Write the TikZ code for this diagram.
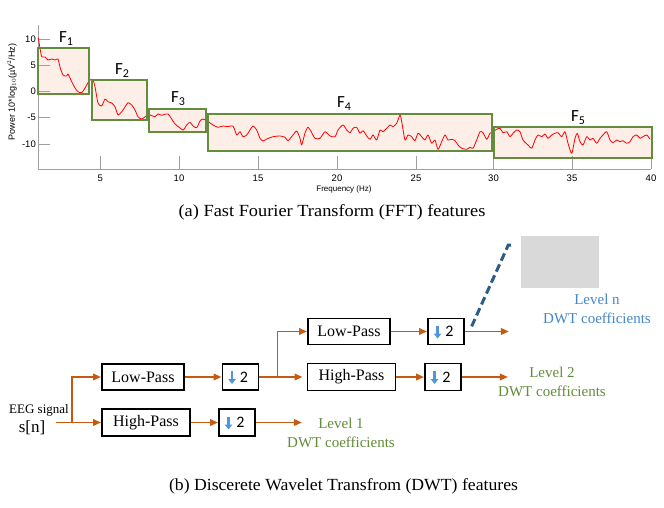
\documentclass[tikz,border=0pt]{standalone}
\usepackage{fontspec}
\setmainfont{Liberation Serif}
\newfontfamily\plotsans{Liberation Sans}
\newfontfamily\calsans{Carlito}
\usetikzlibrary{arrows.meta,calc}
\definecolor{plotgreen}{RGB}{100,140,62}
\definecolor{boxfill}{RGB}{253,238,232}
\definecolor{axisgrey}{RGB}{160,160,160}
\definecolor{sigorange}{RGB}{197,90,17}
\definecolor{lvlblue}{RGB}{68,134,200}
\definecolor{dashblue}{RGB}{46,92,138}
\definecolor{lvlgreen}{RGB}{98,140,58}
\definecolor{arrowblue}{RGB}{80,150,220}
\definecolor{greyrect}{RGB}{217,217,217}
\tikzset{
  fband/.style={fill=boxfill},
  fedge/.style={draw=plotgreen, line width=2pt},
  flabel/.style={font=\calsans\fontsize{17}{17}\selectfont, inner sep=0pt},
  ticklab/.style={font=\plotsans\fontsize{9.5}{9.5}\selectfont, inner sep=0pt},
  axisline/.style={draw=axisgrey, line width=0.9pt},
  filt/.style={draw, line width=1.9pt, fill=white, font=\fontsize{16}{16}\selectfont, inner sep=0pt},
  dbox/.style={draw, line width=1.9pt, fill=white, font=\calsans\fontsize{16}{16}\selectfont, inner sep=0pt, minimum width=36pt},
  conn/.style={draw=sigorange, line width=1.9pt},
  tip/.style={-{Triangle[length=8pt,width=6.5pt]}},
  dnarrow/.style={draw=arrowblue, line width=2.6pt, -{Triangle[length=5pt,width=7.5pt]}},
  lvl/.style={align=center, font=\fontsize{15}{19}\selectfont, inner sep=0pt},
  caption/.style={font=\fontsize{17}{17}\selectfont, inner sep=0pt}
}
\begin{document}
\begin{tikzpicture}[x=1pt,y=-1pt]
\useasboundingbox (0,0) rectangle (664,508);
\fill[white] (0,0) rectangle (664,508);
% ---------- FFT plot ----------
\fill[fband] (38,48) rectangle (89,94);
\fill[fband] (92,80) rectangle (147,120);
\fill[fband] (149,109) rectangle (206,132);
\fill[fband] (208,114) rectangle (492,151);
\fill[fband] (494,127) rectangle (652,158);
\draw[axisline] (38,25) -- (38,169) -- (651,169);
\foreach \yy in {39,65.5,91.5,117.7,144} \draw[axisline] (38,\yy) -- (50,\yy);
\foreach \xx in {100.3,179,258,337,416,493.5,572,651} \draw[axisline] (\xx,169) -- (\xx,156);
\node[ticklab, anchor=east] (y10) at (36,39) {10};
\node[ticklab, anchor=east] (y5) at (36,65.5) {5};
\node[ticklab, anchor=east] (y0) at (36,91.5) {0};
\node[ticklab, anchor=east] (ym5) at (36,117.7) {-5};
\node[ticklab, anchor=east] (ym10) at (36,144) {-10};
\node[ticklab] (x5) at (100.3,178) {5};
\node[ticklab] (x10) at (179,178) {10};
\node[ticklab] (x15) at (258,178) {15};
\node[ticklab] (x20) at (337,178) {20};
\node[ticklab] (x25) at (416,178) {25};
\node[ticklab] (x30) at (493.5,178) {30};
\node[ticklab] (x35) at (572,178) {35};
\node[ticklab] (x40) at (651,178) {40};
\node[font=\plotsans\fontsize{8}{8}\selectfont, inner sep=0pt] (xlab) at (344,189) {Frequency (Hz)};
\node[font=\plotsans\fontsize{9}{9}\selectfont, inner sep=0pt, rotate=90] (ylab) at (12,92) {Power 10*log$_{10}$(µV$^2$/Hz)};
\draw[red, line width=0.8pt, line join=round] plot[smooth, tension=0.4] coordinates {
(38.3,38) (40,48) (41.7,56.7) (45,57) (48,60) (51.7,59) (55,60) (58,59) (60,67) (63,75) (66.7,76) (68,74) (71.7,81.7) (75,88) (78,91.7) (81.7,92.7) (85,88) (89.3,80.7) (92.7,79.3) (95,86.7) (98,103) (101.7,106) (105,99) (108,101.7) (111.7,103) (115,106.7) (118,115) (121.7,111.7) (125,107) (128,102.7) (131.7,105) (135,110) (138,116.7) (141.7,119) (146.7,115.7) (150,115) (155,116.7) (158,114) (161.7,115.3) (165,114.3) (168,114) (171.7,119) (175,124) (180,128) (183.3,130) (186.7,125) (190,122.3) (193,126) (196.7,127.7) (200,121) (203,119) (208.3,121.7) (213,125) (218,127.3) (223,126) (228,126.7) (233,126) (236.7,135) (240,131.7) (243,136.7) (246.7,135) (250,130) (253,126) (256.7,130) (260,138.3) (263,141) (266.7,139) (273,136.7) (280,136) (285,137.3) (288,140.7) (293,135) (296.7,131) (300,138.3) (301.7,145) (305,133) (308,127.3) (311.7,132.7) (315,138.3) (320,138.3) (325,131.7) (330,136) (335,136.7) (338,130) (343,125) (346.7,130) (350,132.7) (353,128.3) (356.7,127.3) (360,133.3) (363,130.7) (366.7,136) (370,139.3) (373,135) (376.7,140) (380,130) (383,131.7) (386.7,128.3) (390,125) (393,126.7) (396.7,123.3) (400,115) (401.7,121.7) (405,140) (408,135) (411.7,136.7) (415,140.7) (418,133.3) (421.7,136.7) (425,140) (428,135) (431.7,143.3) (435,140) (438,149.3) (441.7,141.7) (445,135) (448,140) (451.7,139.3) (455,140.7) (458,145) (461.7,148.3) (466.7,149.3) (470,147.3) (473,148.3) (476.7,140) (480,131.7) (483,132.7) (486.7,139.3) (490,133.3) (493,131.7) (496.7,129.3) (500,128.3) (503,132.7) (506.7,131.7) (510,136.7) (513,133.3) (516.7,130) (520,131.7) (523,140) (528,145) (531.7,148.3) (535,140) (538,135) (541.7,136.7) (545,134) (548,138.3) (551.7,135) (555,133.3) (558,132.7) (561.7,136.7) (565,131.7) (568,143.3) (571.7,153.3) (575,138.3) (577.3,133.3) (580,141.7) (583,145) (586.7,136.7) (590,140) (593,138.3) (596.7,143.3) (600,138.3) (603,135) (606.7,131.7) (610,140) (613,142.7) (616.7,140) (620,141.7) (623,140.7) (626.7,143.3) (630,141.7) (633,136.7) (636.7,135) (640,138.3) (643,136.7) (646.7,135) (650,139.3)};
\draw[fedge] (38,48) rectangle (89,94);
\draw[fedge] (92,80) rectangle (147,120);
\draw[fedge] (149,109) rectangle (206,132);
\draw[fedge] (208,114) rectangle (492,151);
\draw[fedge] (494,127) rectangle (652,158);
\node[flabel] (F1) at (66,39) {F\raisebox{-3pt}{\fontsize{12}{12}\selectfont 1}};
\node[flabel] (F2) at (122,71) {F\raisebox{-3pt}{\fontsize{12}{12}\selectfont 2}};
\node[flabel] (F3) at (178,99) {F\raisebox{-3pt}{\fontsize{12}{12}\selectfont 3}};
\node[flabel] (F4) at (344,104) {F\raisebox{-3pt}{\fontsize{12}{12}\selectfont 4}};
\node[flabel] (F5) at (578,118) {F\raisebox{-3pt}{\fontsize{12}{12}\selectfont 5}};
\node[caption] (capa) at (332,212) {\scalebox{1.08}[1]{(a) Fast Fourier Transform (FFT) features}};
% ---------- DWT ----------
\node[filt, minimum width=82pt, minimum height=26pt] (lp1) at (143,377) {Low-Pass};
\node[filt, minimum width=88pt, minimum height=27pt] (hp1) at (146,422.5) {High-Pass};
\node[dbox, minimum height=26pt] (d1) at (240.5,377) {\hspace*{7pt}2};
\node[dbox, minimum height=27pt] (d2) at (237,422.5) {\hspace*{7pt}2};
\node[filt, minimum width=82pt, minimum height=26pt] (lp2) at (349,331.5) {Low-Pass};
\node[filt, minimum width=88pt, minimum height=27pt] (hp2) at (351.5,377) {High-Pass};
\node[dbox, minimum height=26pt] (dn) at (446,331.5) {\hspace*{7pt}2};
\node[dbox, minimum height=27pt] (dl2) at (443,377) {\hspace*{7pt}2};
\foreach \b in {d1,d2,dn,dl2}
  \draw[dnarrow] ([xshift=10.5pt,yshift=6pt]\b.west) -- ([xshift=10.5pt,yshift=-7pt]\b.west);
\node[fill=greyrect, minimum width=78pt, minimum height=52pt, inner sep=0pt] (grey) at (560,262) {};
\node[font=\fontsize{13}{13}\selectfont, inner sep=0pt] (eeg) at (39,410) {EEG signal};
\node[font=\fontsize{17}{17}\selectfont, inner sep=0pt] (sn) at (32,428) {s[n]};
\coordinate (in) at (56,422.5);
\coordinate (j1) at (72,422.5);
\coordinate (j2) at (277.5,377);
\draw[conn, tip] (in) -- (hp1.west);
\draw[conn, tip] (j1) |- (lp1.west);
\draw[conn, tip] (lp1) -- (d1);
\draw[conn, tip] (hp1) -- (d2);
\draw[conn] (d1.east) -- (j2);
\draw[conn, tip] (j2) |- (lp2.west);
\draw[conn, tip] (j2) -- ([xshift=-4pt]hp2.west);
\draw[conn, tip] (lp2) -- (dn);
\draw[conn, tip] (hp2) -- (dl2);
\draw[conn, tip] (d2.east) -- ++(46,0) coordinate (o1);
\draw[conn, tip] (dl2.east) -- ++(46,0) coordinate (o2);
\draw[conn, tip] (dn.east) -- ++(44,0) coordinate (on);
\coordinate (dsh) at (514,245);
\draw[dashblue, line width=3pt, dash pattern=on 8pt off 4pt] ($(dn.north east)+(6.7,8.8)$) -- (508.3,245) -- (dsh);
\node[lvl, text=lvlblue] (lvn) at (597,308.5) {Level n\\DWT coefficients};
\node[lvl, text=lvlgreen] (lv2) at (552,382) {Level 2\\DWT coefficients};
\node[lvl, text=lvlgreen] (lv1) at (341,432.5) {Level 1\\DWT coefficients};
\node[caption] (capb) at (343.5,486) {\scalebox{1.04}[1]{(b) Discerete Wavelet Transfrom (DWT) features}};
\end{tikzpicture}
\end{document}
